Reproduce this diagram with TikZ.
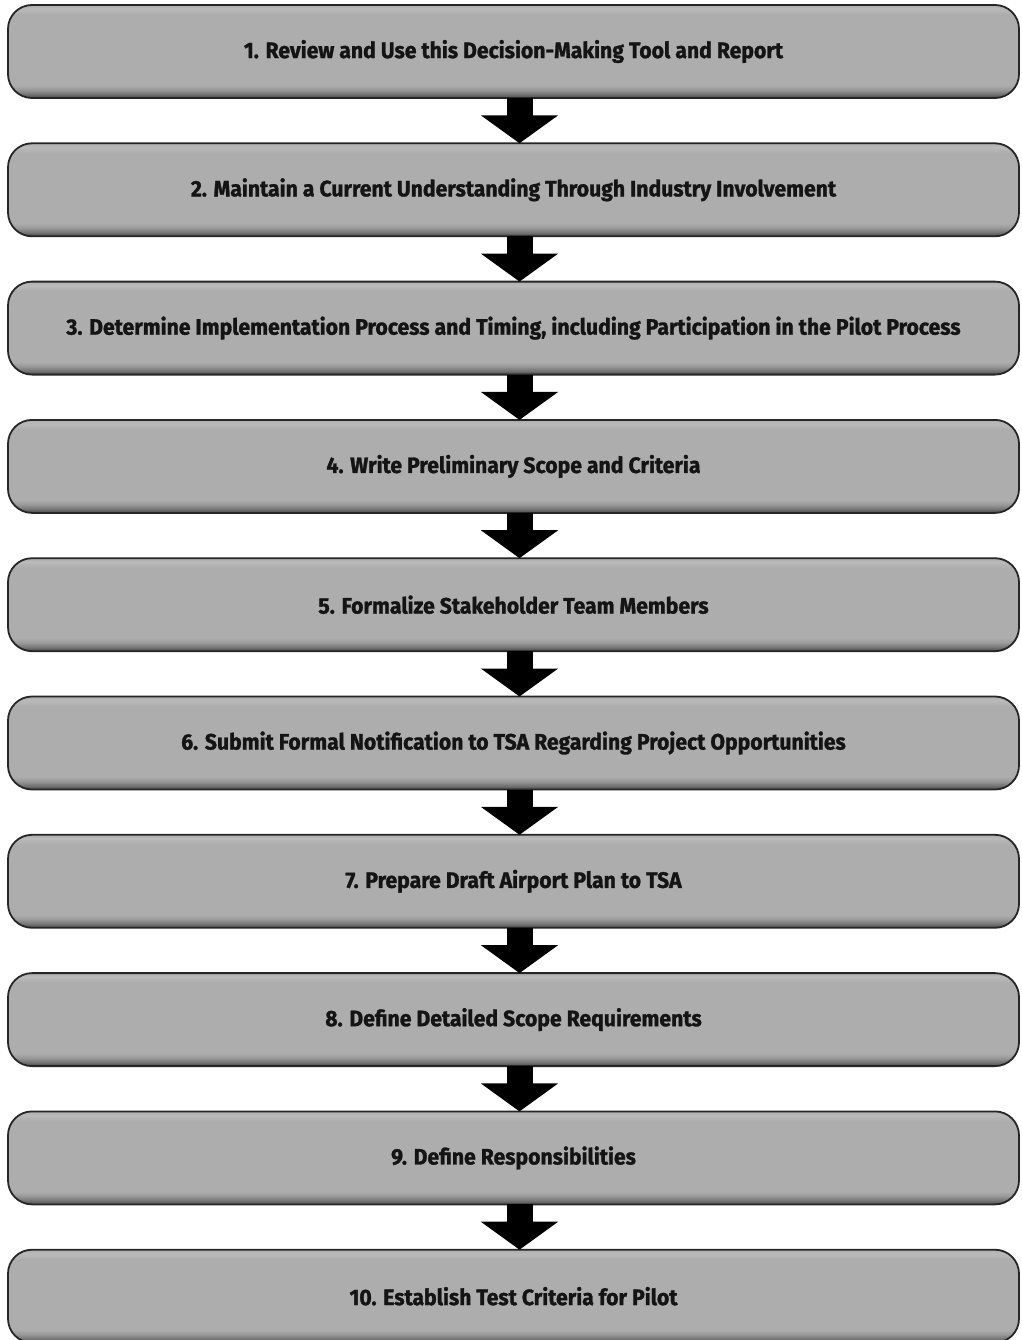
\documentclass[tikz,border=0pt]{standalone}
\usepackage{fontspec}
\newfontfamily\boxfont{Fira Sans}[FakeStretch=0.95, BoldFeatures={FakeBold=1.3}]
\usetikzlibrary{arrows.meta,backgrounds}
\pgfdeclareverticalshading{boxshade}{100bp}{color(0bp)=(black!72); color(25bp)=(black!72); color(27bp)=(black!55); color(29.5bp)=(black!40); color(32bp)=(black!32); color(70bp)=(black!32); color(73bp)=(black!27); color(75bp)=(black!32); color(100bp)=(black!32)}
\tikzset{
  stepbox/.style={shading=boxshade, draw=black!85, line width=1.8pt, rounded corners=24pt,
    minimum width=1011pt, minimum height=93pt, inner sep=0pt, outer sep=0pt,
    font=\boxfont\bfseries\fontsize{22.3}{26}\selectfont, text=black!92},
  downarrow/.style={line width=26pt, draw=black, -{Triangle[length=28pt, width=76pt]}},
  arrowshadow/.style={line width=26pt, draw=black, opacity=0.1, -{Triangle[length=28pt, width=76pt]}}
}
\begin{document}
\begin{tikzpicture}[x=1pt,y=-1pt]
\useasboundingbox (0,0) rectangle (1021,1340);
\fill[white] (0,0) rectangle (1021,1340);
\foreach \i/\t in {
 1/{1. Review and Use this Decision-Making Tool and Report},
 2/{2. Maintain a Current Understanding Through Industry Involvement},
 3/{3. Determine Implementation Process and Timing, including Participation in the Pilot Process},
 4/{4. Write Preliminary Scope and Criteria},
 5/{5. Formalize Stakeholder Team Members},
 6/{6. Submit Formal Notification to TSA Regarding Project Opportunities},
 7/{7. Prepare Draft Airport Plan to TSA},
 8/{8. Define Detailed Scope Requirements},
 9/{9. Define Responsibilities},
 10/{10. Establish Test Criteria for Pilot}} {
  \node[stepbox] (b\i) at (513.5, {51.5+138.3*(\i-1)}) {\t};
}
\begin{scope}[on background layer]
\foreach \i in {1,...,10} {
  \foreach \k in {1,...,7} {
    \fill[black, opacity=0.05, rounded corners=20pt]
      ([xshift={25pt+\k*4pt}, yshift={-\k*3pt}]b\i.south west) rectangle
      ([xshift={-25pt-\k*4pt}, yshift={-\k*3pt-60pt}]b\i.north east);
  }
}
\end{scope}
\foreach \i [evaluate=\i as \j using int(\i+1)] in {1,...,9} {
  \begin{scope}[on background layer]
    \foreach \s in {4,7,10} {
      \draw[arrowshadow] ([xshift={6pt+\s}, yshift=-2pt]b\i.south) -- ([xshift={6pt+\s}, yshift=-1pt]b\j.north);
    }
  \end{scope}
  \draw[downarrow] ([xshift=6pt]b\i.south) -- ([xshift=6pt]b\j.north);
}
\end{tikzpicture}
\end{document}
